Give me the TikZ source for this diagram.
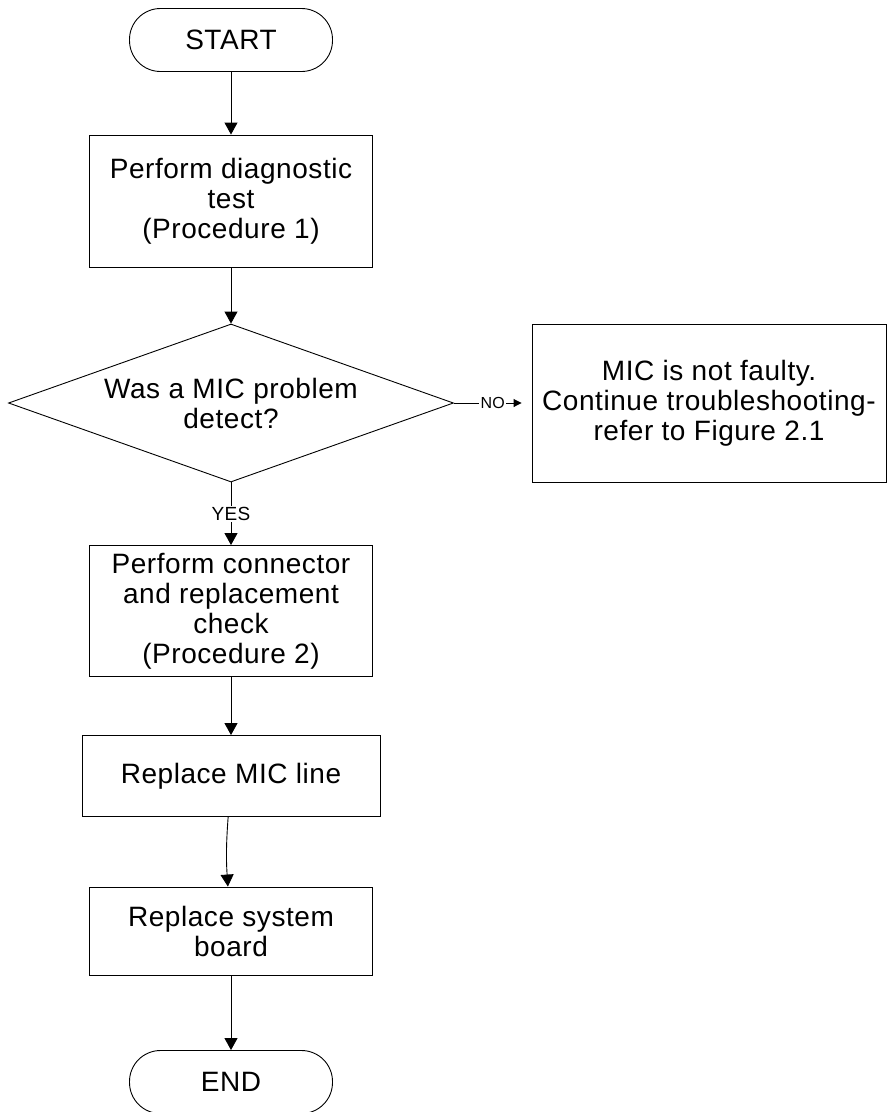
\documentclass[tikz,border=0pt]{standalone}
\usepackage{fontspec}
\setmainfont{Liberation Sans}[LetterSpace=2]
\usetikzlibrary{
arrows.meta,
positioning,
shapes.geometric
}
\tikzset{>={Triangle[length=12pt,width=13pt]}}

\begin{document}
\begin{tikzpicture}[x=1pt, y=1pt, node distance=160pt,
		every node/.style={font=\fontsize{28pt}{30pt}\selectfont},
		every path/.style={line width=0.9pt},
		term/.style={draw, rectangle, rounded corners=31pt, minimum width=203pt, minimum height=63pt},
		box/.style={draw, rectangle, align=center, inner sep=0pt, minimum width=283pt},
		decide/.style={draw, diamond, aspect=2.8, align=center, inner sep=0pt, minimum width=445pt, minimum height=158pt},
		lbl/.style={fill=white, inner sep=1.5pt}]
		\useasboundingbox (0,0) rectangle (888,-1112);

		\node[term] (start) at (231,-40) {START};
		\node[box, minimum height=132pt, node distance=161pt, below of=start] (diag) {Perform diagnostic\\ test\\ (Procedure 1)};
		\node[decide, node distance=202pt, below of=diag] (det) {Was a MIC problem\\ detect?};
		\node[box, minimum width=354pt, minimum height=158pt, node distance=478pt, right of=det] (nofault) {MIC is not faulty.\\ Continue troubleshooting-\\ refer to Figure 2.1};
		\node[box, minimum height=131pt, node distance=208pt, below of=det] (chk) {Perform connector\\ and replacement\\ check\\ (Procedure 2)};
		\node[box, minimum width=298pt, minimum height=81pt, node distance=165pt, below of=chk] (mic) {Replace MIC line};
		\node[box, minimum height=88pt, node distance=155pt, below of=mic] (board) {Replace system\\ board};
		\node[term, node distance=151pt, below of=board] (stop) {END};

		\draw[->] (start) -- (diag);
		\draw[->] (diag) -- (det);
		\draw[-{Triangle[length=8pt,width=8pt]}, shorten >=10pt] (det) -- node[lbl, font=\fontsize{16pt}{18pt}\selectfont] {NO} (nofault);
		\draw[->] (det) -- node[lbl, font=\fontsize{19pt}{21pt}\selectfont] {YES} (chk);
		\draw[->] (chk) -- (mic);
		\draw[->] (mic) to[bend right=4] (board);
		\draw[->] (board) -- (stop);
	\end{tikzpicture}
\end{document}
